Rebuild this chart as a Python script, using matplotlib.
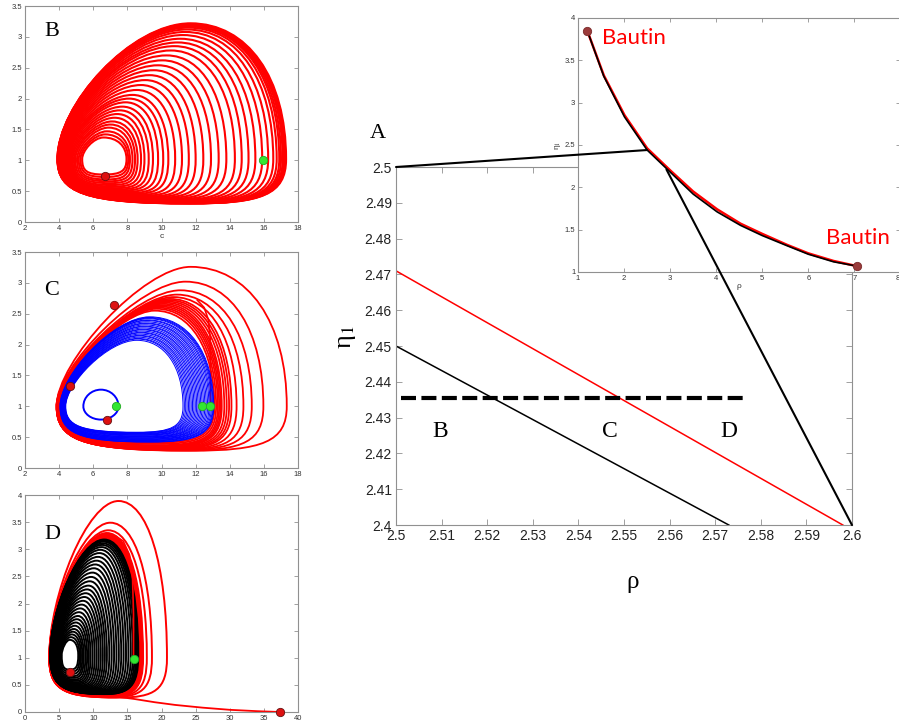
import matplotlib
matplotlib.use("Agg")
import matplotlib.pyplot as plt
from matplotlib.path import Path
from matplotlib.patches import PathPatch, ConnectionPatch

plt.rcParams['font.family'] = ['Liberation Sans', 'DejaVu Sans']
plt.rcParams['mathtext.fontset'] = 'stix'

RED = '#ff0000'
BLUE = '#0000ff'
GREEN = '#33e633'
SERIF = ['Liberation Serif', 'DejaVu Serif']

# ---- panel B: nested orbits (inner -> outer)
B_right = [7.95, 8.05, 8.15, 8.3, 8.45, 8.6, 8.8, 9.0, 9.25, 9.5, 9.8, 10.1, 10.4, 10.8,
           11.2, 11.6, 12.0, 12.45, 12.9, 13.35, 13.8, 14.3, 14.7, 15.1, 15.5, 15.9,
           16.25, 16.55, 16.75, 16.9, 17.0, 17.1, 17.17, 17.22, 17.26, 17.3]
B_top = [1.37, 1.42, 1.47, 1.53, 1.58, 1.63, 1.69, 1.75, 1.81, 1.87, 1.94, 2.0, 2.06, 2.14,
         2.22, 2.3, 2.38, 2.46, 2.54, 2.62, 2.7, 2.78, 2.85, 2.91, 2.97, 3.03,
         3.08, 3.12, 3.15, 3.17, 3.18, 3.19, 3.2, 3.205, 3.21, 3.22]
B_left = [5.35, 5.25, 5.15, 5.05, 4.95, 4.87, 4.79, 4.72, 4.65, 4.58, 4.52, 4.46, 4.41, 4.36,
          4.31, 4.27, 4.23, 4.19, 4.16, 4.13, 4.1, 4.07, 4.05, 4.03, 4.01, 3.99,
          3.97, 3.96, 3.95, 3.94, 3.93, 3.92, 3.915, 3.91, 3.905, 3.9]
B_bottom = [0.77, 0.73, 0.69, 0.66, 0.63, 0.6, 0.575, 0.55, 0.53, 0.51, 0.49, 0.47, 0.455, 0.44,
            0.425, 0.41, 0.4, 0.39, 0.38, 0.37, 0.36, 0.352, 0.345, 0.338, 0.332, 0.326,
            0.321, 0.317, 0.314, 0.311, 0.309, 0.307, 0.305, 0.303, 0.301, 0.3]
B_topx = [6.6, 6.7, 6.8, 6.9, 7.0, 7.1, 7.25, 7.4, 7.55, 7.7, 7.9, 8.1, 8.3, 8.55,
          8.8, 9.05, 9.3, 9.55, 9.8, 10.05, 10.3, 10.55, 10.75, 10.95, 11.1, 11.25,
          11.38, 11.48, 11.55, 11.6, 11.63, 11.65, 11.67, 11.68, 11.69, 11.7]
B_red_dot = (6.69, 0.745)
B_green_dot = (15.97, 1.0)

# ---- panel C
C_blue_right = [11.26, 11.34, 11.42, 11.5, 11.58, 11.66, 11.74, 11.82, 11.9, 11.98, 12.06, 12.14,
                12.22, 12.3, 12.38, 12.46, 12.54, 12.62, 12.7, 12.78, 12.85, 12.92, 12.98, 13.02, 13.06]
C_blue_top = [2.07, 2.09, 2.1, 2.12, 2.14, 2.15, 2.17, 2.19, 2.2, 2.22, 2.24, 2.25,
              2.27, 2.29, 2.3, 2.32, 2.34, 2.35, 2.37, 2.39, 2.4, 2.42, 2.43, 2.44, 2.45]
C_blue_left = [4.39, 4.37, 4.36, 4.34, 4.33, 4.31, 4.3, 4.28, 4.27, 4.25, 4.24, 4.22,
               4.21, 4.19, 4.18, 4.16, 4.15, 4.13, 4.12, 4.1, 4.09, 4.08, 4.07, 4.06, 4.05]
C_blue_bottom = [0.58, 0.575, 0.57, 0.56, 0.555, 0.55, 0.54, 0.535, 0.53, 0.52, 0.51, 0.505,
                 0.5, 0.49, 0.485, 0.48, 0.47, 0.465, 0.46, 0.45, 0.445, 0.44, 0.43, 0.425, 0.42]
C_blue_topx = [8.55, 8.58, 8.61, 8.64, 8.67, 8.7, 8.73, 8.76, 8.79, 8.82, 8.85, 8.88,
               8.91, 8.94, 8.97, 9.0, 9.03, 9.06, 9.09, 9.12, 9.15, 9.2, 9.23, 9.27, 9.3]
C_small_loop = (5.42, 7.48, 0.785, 1.27, 6.45, 1.0)   # left, right, bottom, top, top x, mid y
C_red_right = [13.1, 13.2, 13.3, 13.38, 13.46, 13.53, 13.68, 13.82, 13.96, 14.1, 14.4, 14.8, 15.29, 15.97, 17.34]
C_red_top = [2.55, 2.58, 2.6, 2.62, 2.64, 2.66, 2.68, 2.7, 2.72, 2.74, 2.77, 2.81, 2.88, 3.02, 3.26]
C_red_left = [4.02, 4.0, 3.98, 3.96, 3.94, 3.92, 3.9, 3.89, 3.88, 3.87, 3.86, 3.86, 3.85, 3.85, 3.85]
C_red_bottom = [0.41, 0.39, 0.37, 0.36, 0.35, 0.34, 0.33, 0.32, 0.31, 0.305, 0.3, 0.295, 0.29, 0.285, 0.28]
C_red_topx = [9.6, 9.7, 9.8, 9.9, 10.0, 10.1, 10.2, 10.3, 10.4, 10.5, 10.7, 10.9, 11.1, 11.4, 11.7]
C_red_tail_x = [12.87, 12.87, 12.85, 12.75, 12.5, 12.1]
C_red_tail_y = [1.0, 1.6, 2.1, 2.4, 2.6, 2.72]
C_red_dots_x = [7.19, 4.64, 6.79]
C_red_dots_y = [2.64, 1.33, 0.785]
C_green_dots_x = [7.34, 12.4, 12.87]
C_green_dots_y = [1.0, 1.0, 1.0]

# ---- panel D
D_black_right = [7.8, 8.0, 8.2, 8.4, 8.6, 8.85, 9.1, 9.35, 9.6, 9.9, 10.2, 10.5, 10.8, 11.1, 11.4,
                 11.7, 12.0, 12.35, 12.7, 13.05, 13.4, 13.75, 14.1, 14.45, 14.8, 15.15, 15.5,
                 15.8, 16.05, 16.25, 16.4, 16.5, 16.6]
D_black_top = [1.33, 1.38, 1.43, 1.48, 1.53, 1.59, 1.65, 1.71, 1.77, 1.84, 1.91, 1.98, 2.05, 2.12, 2.19,
               2.26, 2.33, 2.41, 2.49, 2.57, 2.65, 2.72, 2.79, 2.86, 2.93, 2.99, 3.04,
               3.08, 3.11, 3.14, 3.16, 3.17, 3.18]
D_black_left = [5.38, 5.2, 5.05, 4.92, 4.8, 4.7, 4.6, 4.51, 4.43, 4.36, 4.29, 4.23, 4.17, 4.12, 4.07,
                4.03, 3.99, 3.95, 3.92, 3.89, 3.86, 3.83, 3.81, 3.79, 3.77, 3.76, 3.75,
                3.74, 3.73, 3.72, 3.71, 3.705, 3.7]
D_black_bottom = [0.78, 0.74, 0.7, 0.66, 0.63, 0.6, 0.575, 0.55, 0.53, 0.51, 0.49, 0.475, 0.46, 0.445, 0.43,
                  0.42, 0.41, 0.4, 0.39, 0.38, 0.372, 0.365, 0.358, 0.352, 0.347, 0.343, 0.34,
                  0.338, 0.336, 0.334, 0.332, 0.331, 0.33]
D_black_topx = [6.55, 6.7, 6.85, 7.0, 7.15, 7.3, 7.45, 7.6, 7.75, 7.9, 8.1, 8.3, 8.5, 8.7, 8.9,
                9.1, 9.3, 9.5, 9.7, 9.9, 10.1, 10.3, 10.5, 10.7, 10.9, 11.05, 11.2,
                11.3, 11.4, 11.47, 11.53, 11.57, 11.6]
D_red_right = [16.7, 16.8, 16.9, 17.0, 17.1, 17.2, 17.3, 17.85, 18.6, 20.8]
D_red_top = [3.2, 3.21, 3.22, 3.24, 3.26, 3.28, 3.3, 3.35, 3.49, 3.89]
D_red_left = [3.68, 3.66, 3.64, 3.62, 3.6, 3.58, 3.57, 3.56, 3.55, 3.55]
D_red_bottom = [0.32, 0.31, 0.3, 0.295, 0.29, 0.285, 0.28, 0.275, 0.27, 0.265]
D_red_topx = [11.7, 11.75, 11.8, 11.85, 11.9, 11.95, 12.0, 12.2, 12.5, 13.7]
D_tail_x = [37.3, 34, 30, 26, 22, 19, 16, 13, 10]
D_tail_y = [0.0, 0.015, 0.04, 0.08, 0.13, 0.18, 0.24, 0.29, 0.33]
D_rise_x = [15.9, 15.9, 15.75, 15.3, 14.4, 13.2]
D_rise_y = [1.0, 1.8, 2.5, 2.9, 3.15, 3.25]
D_red_dots_x = [6.6, 37.3]
D_red_dots_y = [0.74, 0.0]
D_green_dot = (15.9, 0.98)

# ---- panel A (main) and its inset
A_hopf_black_x = [2.5, 2.573]
A_hopf_black_y = [2.45, 2.4]
A_hopf_red_x = [2.5, 2.598]
A_hopf_red_y = [2.471, 2.4]
A_dashed_x = [2.501, 2.577]
A_dashed_y = [2.4355, 2.4355]
A_letters = ['B', 'C', 'D']
A_letters_x = [2.5097, 2.547, 2.573]
A_letter_y = 2.426
A_xticks = [2.5, 2.51, 2.52, 2.53, 2.54, 2.55, 2.56, 2.57, 2.58, 2.59, 2.6]
A_yticks = [2.4, 2.41, 2.42, 2.43, 2.44, 2.45, 2.46, 2.47, 2.48, 2.49, 2.5]

inset_rho = [1.2, 1.56, 2.01, 2.5, 3.0, 3.5, 4.02, 4.53, 5.0, 5.54, 6.0, 6.55, 7.05]
inset_eta_black = [3.85, 3.31, 2.83, 2.44, 2.18, 1.92, 1.71, 1.55, 1.43, 1.31, 1.21, 1.12, 1.07]
inset_eta_red = [3.85, 3.32, 2.85, 2.46, 2.2, 1.95, 1.74, 1.57, 1.45, 1.32, 1.22, 1.13, 1.07]
bautin_x = [1.2, 7.05]
bautin_y = [3.85, 1.07]

SHAPE = (0.75, 0.8, 0.75, 0.8, 0.6, 0.6, 0.45, 0.4)


def loop(ax, xl, xr, yb, yt, xt, yc, color, lw, f=SHAPE, z=2):
    verts = [(xl, yc),
             (xl, yc - f[0] * (yc - yb)), (xt - f[1] * (xt - xl), yb), (xt, yb),
             (xt + f[2] * (xr - xt), yb), (xr, yc - f[3] * (yc - yb)), (xr, yc),
             (xr, yc + f[4] * (yt - yc)), (xt + f[5] * (xr - xt), yt), (xt, yt),
             (xt - f[6] * (xt - xl), yt), (xl, yc + f[7] * (yt - yc)), (xl, yc)]
    codes = [Path.MOVETO] + [Path.CURVE4] * 12
    ax.add_patch(PathPatch(Path(verts, codes), fill=False, ec=color, lw=lw, zorder=z))


def orbits(ax, L, R, Bt, T, TX, yc, color, lw, f=SHAPE, z=2):
    for xl, xr, yb, yt, xt in zip(L, R, Bt, T, TX):
        loop(ax, xl, xr, yb, yt, xt, yc, color, lw, f, z)


def frame(ax, size, length):
    for s in ax.spines.values():
        s.set_color('#909090')
        s.set_linewidth(0.8)
    ax.tick_params(direction='in', top=True, right=True, length=length, width=0.6,
                   color='#909090', labelsize=size, labelcolor='#333333', pad=2)


def dots(ax, xs, ys, fc, ec, ms=6):
    ax.plot(xs, ys, 'o', ms=ms, mfc=fc, mec=ec, mew=0.6, zorder=6, clip_on=False)


fig = plt.figure(figsize=(8.99, 7.28), dpi=100)

# panel B
axB = fig.add_axes([0.0278, 0.695, 0.3037, 0.2967])
orbits(axB, B_left, B_right, B_bottom, B_top, B_topx, 1.02, RED, 1.5)
dots(axB, [B_red_dot[0]], [B_red_dot[1]], '#dd1111', '#661111')
dots(axB, [B_green_dot[0]], [B_green_dot[1]], GREEN, '#22aa22')
axB.set_xlim(2, 18)
axB.set_ylim(0, 3.5)
axB.set_xticks(range(2, 19, 2))
axB.set_yticks([0, 0.5, 1, 1.5, 2, 2.5, 3, 3.5])
axB.set_yticklabels(['0', '0.5', '1', '1.5', '2', '2.5', '3', '3.5'])
axB.set_xlabel('c', fontsize=6, labelpad=1, color='#333333')
frame(axB, 5.5, 3)
axB.text(0.07, 0.88, 'B', transform=axB.transAxes, fontsize=16, family=SERIF, va='center')

# panel C
axC = fig.add_axes([0.0278, 0.3571, 0.3037, 0.2967])
orbits(axC, C_red_left, C_red_right, C_red_bottom, C_red_top, C_red_topx, 1.0, RED, 1.3,
       f=(0.75, 0.8, 0.75, 0.8, 0.6, 0.6, 0.35, 0.32))
orbits(axC, C_blue_left, C_blue_right, C_blue_bottom, C_blue_top, C_blue_topx, 1.0, BLUE, 0.7,
       f=(0.75, 0.8, 0.75, 0.8, 0.6, 0.6, 0.4, 0.35), z=3)
sl = C_small_loop
loop(axC, sl[0], sl[1], sl[2], sl[3], sl[4], sl[5], BLUE, 1.4, f=(0.55,) * 8, z=3)
axC.plot(C_red_tail_x, C_red_tail_y, color=RED, lw=1.2, zorder=2)
dots(axC, C_red_dots_x, C_red_dots_y, '#dd1111', '#661111')
dots(axC, C_green_dots_x, C_green_dots_y, GREEN, '#22aa22')
axC.set_xlim(2, 18)
axC.set_ylim(0, 3.5)
axC.set_xticks(range(2, 19, 2))
axC.set_yticks([0, 0.5, 1, 1.5, 2, 2.5, 3, 3.5])
axC.set_yticklabels(['0', '0.5', '1', '1.5', '2', '2.5', '3', '3.5'])
frame(axC, 5.5, 3)
axC.text(0.07, 0.82, 'C', transform=axC.transAxes, fontsize=16, family=SERIF, va='center')

# panel D
axD = fig.add_axes([0.0278, 0.022, 0.3037, 0.298])
orbits(axD, D_red_left, D_red_right, D_red_bottom, D_red_top, D_red_topx, 1.0, RED, 1.4,
       f=(0.75, 0.8, 0.75, 0.8, 0.6, 0.6, 0.45, 0.4))
orbits(axD, D_black_left, D_black_right, D_black_bottom, D_black_top, D_black_topx, 1.05, 'black', 1.4, z=3)
axD.plot(D_tail_x, D_tail_y, color=RED, lw=1.3, zorder=2)
axD.plot(D_rise_x, D_rise_y, color=RED, lw=1.2, zorder=4)
dots(axD, D_red_dots_x, D_red_dots_y, '#dd1111', '#661111')
dots(axD, [D_green_dot[0]], [D_green_dot[1]], GREEN, '#22aa22')
axD.set_xlim(0, 40)
axD.set_ylim(0, 4)
axD.set_xticks(range(0, 41, 5))
axD.set_yticks([0, 0.5, 1, 1.5, 2, 2.5, 3, 3.5, 4])
axD.set_yticklabels(['0', '0.5', '1', '1.5', '2', '2.5', '3', '3.5', '4'])
frame(axD, 5.5, 3)
axD.text(0.07, 0.82, 'D', transform=axD.transAxes, fontsize=16, family=SERIF, va='center')

# panel A
axA = fig.add_axes([0.4405, 0.2788, 0.5072, 0.4918])
axA.plot(A_hopf_black_x, A_hopf_black_y, color='black', lw=1.1)
axA.plot(A_hopf_red_x, A_hopf_red_y, color=RED, lw=1.1)
axA.plot(A_dashed_x, A_dashed_y, color='black', lw=3, dashes=(3.6, 1.3))
for s, x in zip(A_letters, A_letters_x):
    axA.text(x, A_letter_y, s, fontsize=17, family=SERIF, ha='center', va='center')
axA.set_xlim(2.5, 2.6)
axA.set_ylim(2.4, 2.5)
axA.set_xticks(A_xticks)
axA.set_xticklabels(['2.5', '2.51', '2.52', '2.53', '2.54', '2.55', '2.56', '2.57', '2.58', '2.59', '2.6'])
axA.set_yticks(A_yticks)
axA.set_yticklabels(['2.4', '2.41', '2.42', '2.43', '2.44', '2.45', '2.46', '2.47', '2.48', '2.49', '2.5'])
frame(axA, 10, 4)
axA.tick_params(labelcolor='#222222', pad=3)
axA.text(-0.107, 0.525, 'η$_1$', transform=axA.transAxes, fontsize=19, family=SERIF,
         rotation=90, ha='center', va='center')
axA.text(0.52, -0.16, 'ρ', transform=axA.transAxes, fontsize=18, family=SERIF,
         ha='center', va='center')
fig.text(0.42, 0.817, 'A', fontsize=16, family=SERIF, ha='center', va='center')

# inset
axI = fig.add_axes([0.643, 0.6264, 0.3585, 0.349])
axI.plot(inset_rho, inset_eta_red, color=RED, lw=1.8)
axI.plot(inset_rho, inset_eta_black, color='black', lw=1.2)
dots(axI, bautin_x, bautin_y, '#9b3b3b', '#7a2a2a', ms=6)
axI.text(2.22, 3.76, 'Bautin', color=RED, fontsize=16, family=['Lato', 'DejaVu Sans'],
         ha='center', va='center')
axI.text(7.07, 1.40, 'Bautin', color=RED, fontsize=16, family=['Lato', 'DejaVu Sans'],
         ha='center', va='center', clip_on=False)
axI.set_xlim(1, 8)
axI.set_ylim(1, 4)
axI.set_xticks(range(1, 9))
axI.set_yticks([1, 1.5, 2, 2.5, 3, 3.5, 4])
axI.set_yticklabels(['1', '1.5', '2', '2.5', '3', '3.5', '4'])
frame(axI, 5.5, 3)
axI.get_xticklabels()[-1].set_horizontalalignment('right')
axI.set_xlabel('ρ', fontsize=6, labelpad=1, color='#333333')
axI.set_ylabel('η$_1$', fontsize=6, labelpad=1, color='#333333')

# zoom connector lines
for pa, pi in [((2.5, 2.5), (2.5, 2.44)), ((2.6, 2.4), (2.92, 2.21))]:
    fig.add_artist(ConnectionPatch(xyA=pa, coordsA=axA.transData, xyB=pi, coordsB=axI.transData,
                                   color='black', lw=1.5, zorder=5))

fig.savefig('out.png', dpi=100)
